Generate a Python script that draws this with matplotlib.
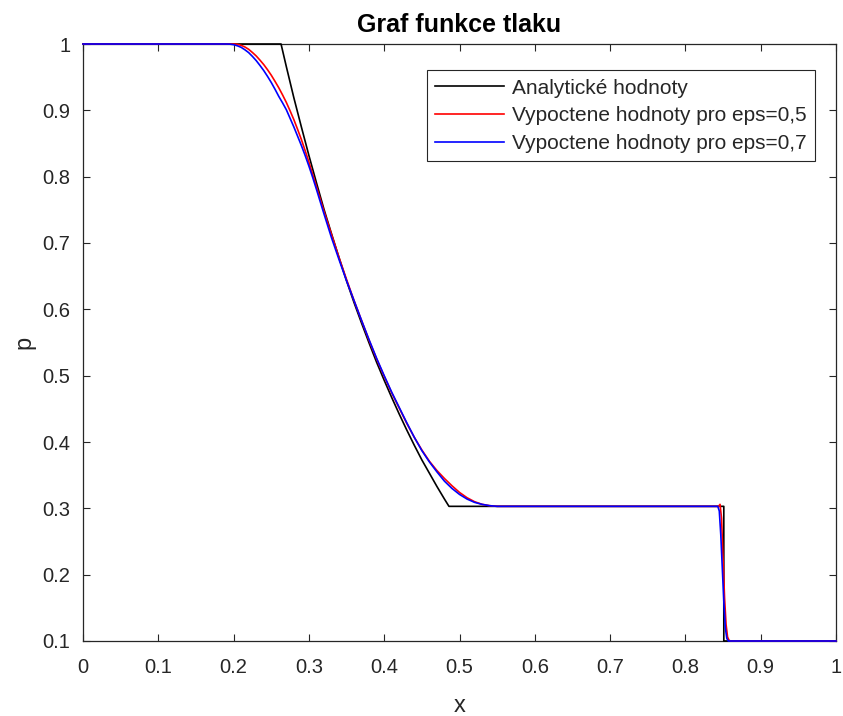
import matplotlib
matplotlib.use("Agg")
import matplotlib.pyplot as plt

plt.rcParams['font.family'] = ['Liberation Sans', 'DejaVu Sans']

# Analytic pressure profile (Sod shock tube)
x_analytic = [0.0, 0.263, 0.27, 0.28, 0.29, 0.30, 0.31, 0.32, 0.33, 0.34, 0.35,
              0.36, 0.37, 0.38, 0.39, 0.40, 0.41, 0.42, 0.43, 0.44, 0.45, 0.46,
              0.47, 0.48, 0.486, 0.851, 0.851, 1.0]
p_analytic = [1.0, 1.0, 0.966, 0.919, 0.875, 0.832, 0.791, 0.751, 0.714, 0.678, 0.643,
              0.610, 0.579, 0.549, 0.520, 0.493, 0.467, 0.442, 0.418, 0.395, 0.373, 0.353,
              0.333, 0.314, 0.303, 0.303, 0.1, 0.1]

# Computed pressure, eps = 0.5
x_eps05 = [0.0, 0.20, 0.205, 0.21, 0.215, 0.22, 0.225, 0.23, 0.235, 0.24, 0.245,
           0.25, 0.255, 0.26, 0.265, 0.27, 0.275, 0.28, 0.285, 0.29, 0.295,
           0.30, 0.31, 0.32, 0.33, 0.34, 0.35, 0.36, 0.37, 0.38, 0.39, 0.40, 0.41,
           0.42, 0.43, 0.44, 0.45, 0.46, 0.47, 0.48, 0.49, 0.50, 0.51, 0.52, 0.53,
           0.54, 0.55, 0.844, 0.846, 0.848, 0.850, 0.852, 0.854, 0.856, 0.858, 0.860, 1.0]
p_eps05 = [1.0, 1.0, 0.9996, 0.998, 0.9955, 0.992, 0.9872, 0.982, 0.9757, 0.969, 0.9613,
           0.953, 0.9437, 0.934, 0.9233, 0.912, 0.8993, 0.886, 0.8713, 0.856, 0.8393,
           0.822, 0.785, 0.748, 0.713, 0.678, 0.645, 0.613, 0.583, 0.553, 0.525, 0.499, 0.474,
           0.451, 0.428, 0.407, 0.388, 0.371, 0.357, 0.345, 0.334, 0.324, 0.316, 0.310, 0.306,
           0.304, 0.303, 0.303, 0.306, 0.285, 0.225, 0.165, 0.125, 0.106, 0.101, 0.1, 0.1]

# Computed pressure, eps = 0.7
x_eps07 = [0.0, 0.19, 0.195, 0.20, 0.205, 0.21, 0.215, 0.22, 0.225, 0.23, 0.235,
           0.24, 0.245, 0.25, 0.255, 0.26, 0.265, 0.27, 0.275, 0.28, 0.285, 0.29,
           0.295, 0.30, 0.305, 0.31, 0.32, 0.33, 0.34, 0.35, 0.36, 0.37, 0.38, 0.39,
           0.40, 0.41, 0.42, 0.43, 0.44, 0.45, 0.46, 0.47, 0.48, 0.49, 0.50, 0.51,
           0.52, 0.53, 0.54, 0.55, 0.843, 0.845, 0.847, 0.849, 0.851, 0.853, 0.855,
           0.857, 1.0]
p_eps07 = [1.0, 1.0, 0.9998, 0.999, 0.9973, 0.995, 0.9913, 0.987, 0.9813, 0.975, 0.9677,
           0.960, 0.9513, 0.942, 0.9318, 0.921, 0.9113, 0.901, 0.888, 0.875, 0.861, 0.847,
           0.832, 0.816, 0.799, 0.781, 0.744, 0.708, 0.675, 0.643, 0.613, 0.583, 0.554, 0.526,
           0.500, 0.475, 0.452, 0.429, 0.407, 0.387, 0.370, 0.355, 0.341, 0.330, 0.321, 0.314,
           0.309, 0.306, 0.304, 0.303, 0.303, 0.296, 0.260, 0.210, 0.160, 0.120, 0.104,
           0.1, 0.1]

x_ticks = [0, 0.1, 0.2, 0.3, 0.4, 0.5, 0.6, 0.7, 0.8, 0.9, 1]
x_ticklabels = ['0', '0.1', '0.2', '0.3', '0.4', '0.5', '0.6', '0.7', '0.8', '0.9', '1']
y_ticks = [0.1, 0.2, 0.3, 0.4, 0.5, 0.6, 0.7, 0.8, 0.9, 1]
y_ticklabels = ['0.1', '0.2', '0.3', '0.4', '0.5', '0.6', '0.7', '0.8', '0.9', '1']

labels = ['Analytické hodnoty',
          'Vypoctene hodnoty pro eps=0,5',
          'Vypoctene hodnoty pro eps=0,7']

W, H = 843, 716
fig = plt.figure(figsize=(W / 100, H / 100), dpi=100)
ax = fig.add_axes([83 / W, (H - 641) / H, (836 - 83) / W, (641 - 44) / H])

axis_color = '#262626'
lw = 1.2
ax.plot(x_analytic, p_analytic, color='k', lw=lw, label=labels[0], clip_on=False, zorder=3)
ax.plot(x_eps05, p_eps05, color='r', lw=lw, label=labels[1], clip_on=False, zorder=4)
ax.plot(x_eps07, p_eps07, color='b', lw=lw, label=labels[2], clip_on=False, zorder=5)

ax.set_xlim(0, 1)
ax.set_ylim(0.1, 1)
ax.set_xticks(x_ticks)
ax.set_xticklabels(x_ticklabels)
ax.set_yticks(y_ticks)
ax.set_yticklabels(y_ticklabels)
ax.tick_params(direction='in', top=True, right=True, length=5, width=0.8,
               colors=axis_color, labelsize=14.5)
ax.tick_params(axis='x', pad=12)
ax.tick_params(axis='y', pad=9)
for s in ax.spines.values():
    s.set_color(axis_color)
    s.set_linewidth(0.9)

ax.set_title('Graf funkce tlaku', fontsize=18, fontweight='bold', color='k', pad=9)
ax.set_xlabel('x', fontsize=17, color=axis_color, labelpad=13)
ax.set_ylabel('p', fontsize=17, color=axis_color, labelpad=5)

leg = ax.legend(loc='upper right', bbox_to_anchor=(0.972, 0.956), fontsize=15,
                frameon=True, fancybox=False, framealpha=1, edgecolor=axis_color,
                handlelength=3.3, handletextpad=0.4, borderpad=0.4, labelspacing=0.42,
                borderaxespad=0)
leg.get_frame().set_linewidth(0.8)
for t in leg.get_texts():
    t.set_color(axis_color)

fig.savefig('out.png', dpi=100)
